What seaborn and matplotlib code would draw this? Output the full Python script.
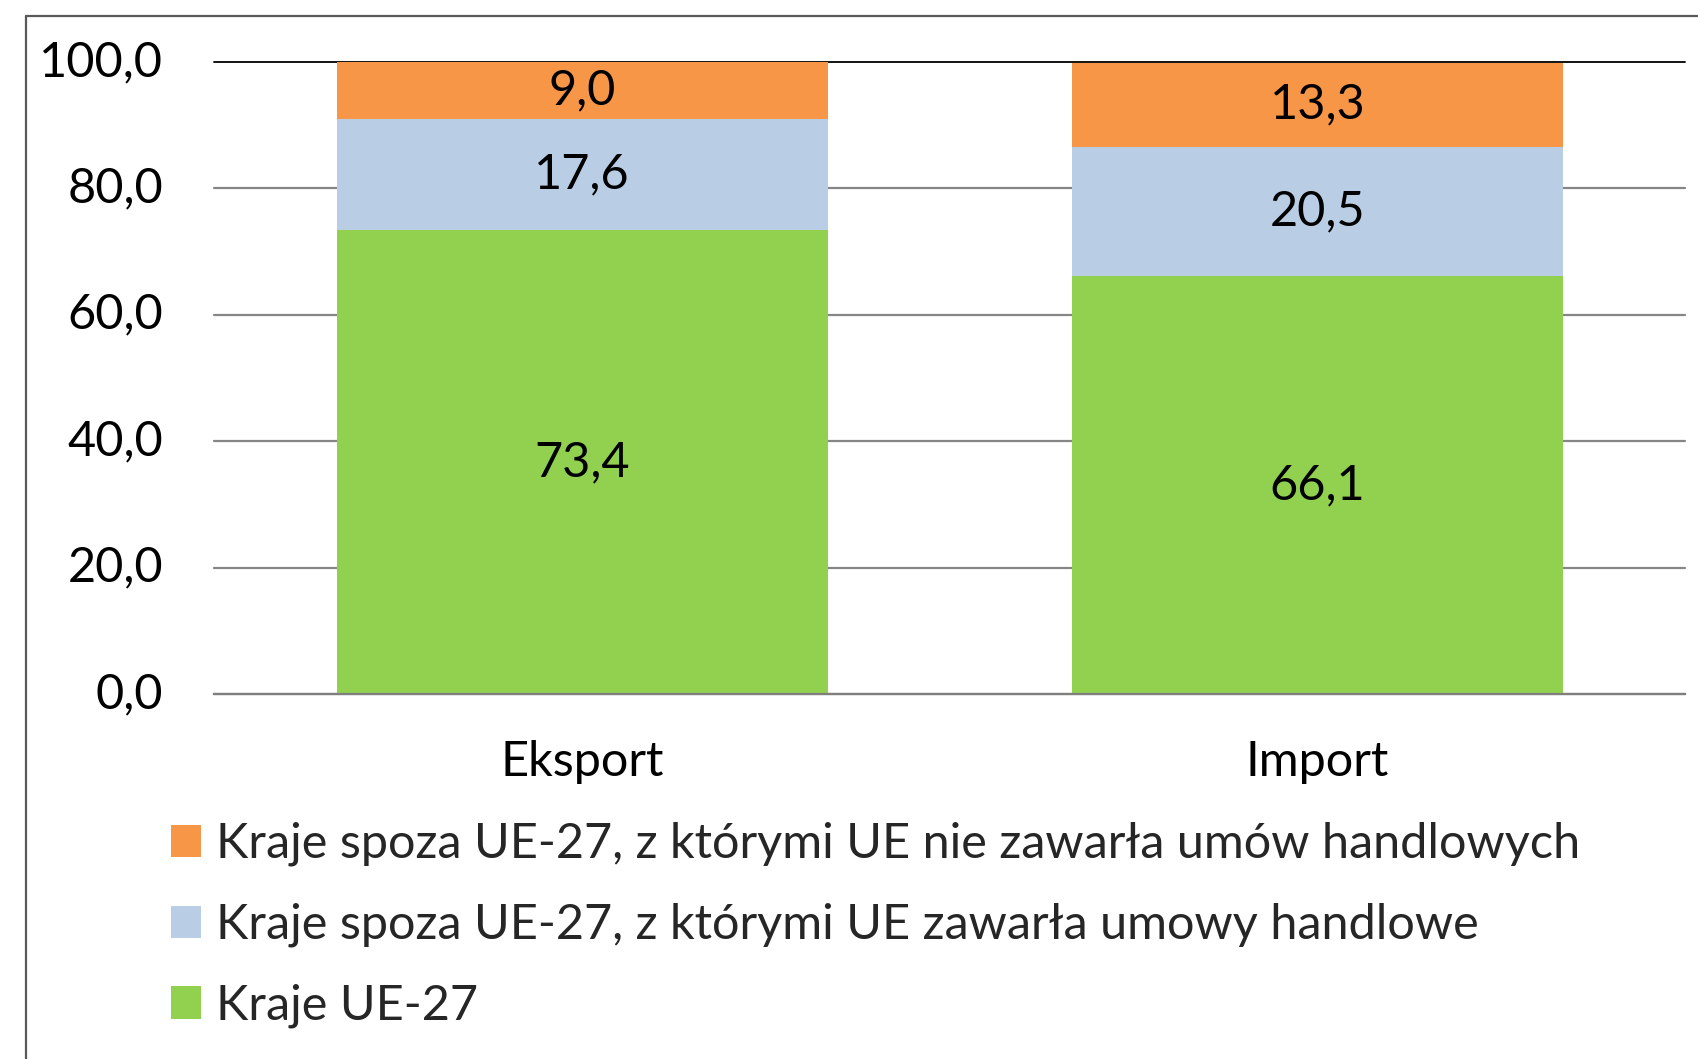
import matplotlib
matplotlib.use("Agg")
import matplotlib.pyplot as plt
from matplotlib.patches import Patch
from matplotlib.lines import Line2D
import matplotlib.transforms as mtransforms
import seaborn as sns
import pandas as pd
import numpy as np

categories = ["Eksport", "Import"]
series_names = [
    "Kraje UE-27",
    "Kraje spoza UE-27, z którymi UE zawarła umowy handlowe",
    "Kraje spoza UE-27, z którymi UE nie zawarła umów handlowych",
]
ue27 = [73.4, 66.1]
with_agreements = [17.6, 20.5]
without_agreements = [9.0, 13.3]
colors = ["#92D050", "#B9CDE5", "#F79646"]
y_ticks = [0, 20, 40, 60, 80, 100]

sns.set_theme(style="white")
plt.rcParams["font.family"] = ["Lato", "DejaVu Sans"]

FS = 35
W, H, DPI = 1699, 1059, 100
fig = plt.figure(figsize=(W / DPI, H / DPI), dpi=DPI)
ax = fig.add_axes([214.5 / W, 1 - 694 / H, (1685 - 214.5) / W, (694 - 62) / H])

layers = [ue27, with_agreements, without_agreements]
cum = np.cumsum(np.array(layers), axis=0)
# draw from top cumulative down so lower segments overlay
for i in range(len(layers) - 1, -1, -1):
    df = pd.DataFrame({"cat": categories, "val": cum[i]})
    sns.barplot(data=df, x="cat", y="val", color=colors[i], saturation=1,
                width=0.668, ax=ax, linewidth=0, zorder=2)

# data labels
for i, layer in enumerate(layers):
    bottoms = cum[i] - np.array(layer)
    for j, v in enumerate(layer):
        ax.text(j, bottoms[j] + v / 2, f"{v:.1f}".replace(".", ","),
                ha="center", va="center", fontsize=FS, color="black", zorder=3)

ax.set_ylim(0, 100)
ax.set_xlim(-0.5, 1.5)
ax.set_yticks(y_ticks)
ax.set_yticklabels([f"{t:.1f}".replace(".", ",") for t in y_ticks])
ax.set_xlabel("")
ax.set_ylabel("")
ax.tick_params(axis="y", length=0, pad=37, labelsize=FS, labelcolor="black")
ax.tick_params(axis="x", length=0, pad=33, labelsize=FS, labelcolor="black")
shift = mtransforms.ScaledTranslation(0, 4 / DPI, fig.dpi_scale_trans)
for lab in ax.get_yticklabels():
    lab.set_transform(lab.get_transform() + shift)
for s in ["left", "right", "top"]:
    ax.spines[s].set_visible(False)
ax.spines["bottom"].set_color("#7F7F7F")
ax.spines["bottom"].set_linewidth(1.6)
ax.spines["bottom"].set_zorder(4)
ax.set_axisbelow(True)
ax.yaxis.grid(True, color="#868686", linewidth=1.6)
ax.xaxis.grid(False)
gl = ax.get_ygridlines()
gl[-1].set_color("black")
gl[-1].set_linewidth(1.3)
for g in gl:
    g.set_clip_on(False)

handles = [Patch(facecolor=colors[i], edgecolor="none", label=series_names[i]) for i in (2, 1, 0)]
leg = fig.legend(handles=handles, loc="upper left", bbox_to_anchor=(171 / W, 1 - 822 / H),
                 frameon=False, fontsize=FS, handlelength=0.62, handleheight=0.66,
                 handletextpad=0.3, labelspacing=0.75, borderaxespad=0, borderpad=0)

# outer chart frame (left and top visible in crop)
fig.add_artist(Line2D([26 / W, 26 / W], [0, 1 - 16 / H], color="#595959", linewidth=1.6,
                      transform=fig.transFigure))
fig.add_artist(Line2D([26 / W, 1], [1 - 16 / H, 1 - 16 / H], color="#595959", linewidth=1.6,
                      transform=fig.transFigure))

fig.savefig("out.png", dpi=DPI)
